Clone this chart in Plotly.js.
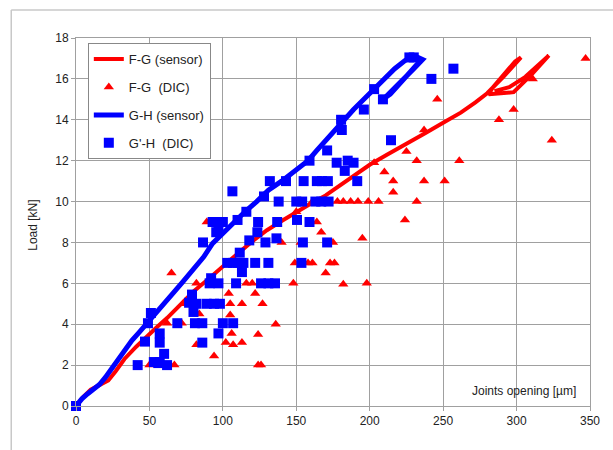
<!DOCTYPE html>
<html>
<head>
<meta charset="utf-8">
<script src="https://cdn.plot.ly/plotly-3.0.1.min.js"></script>
<style>html,body{margin:0;padding:0;background:#fff;}#chart{width:613px;height:450px;}</style>
</head>
<body>
<div id="chart"></div>
<script>
// F-G (sensor)
var fgSensorX = [0,5,10,16,22,27,33,41,48,55,62,70,80,90,100,110,120,130,140,150,160,170,180,190,200,212,225,238,250,262,272,280,291,303,299,290,284,281,290,298,310,322,316,306,295,285];
var fgSensorY = [0,0.45,0.8,1.05,1.25,1.7,2.3,2.9,3.4,3.85,4.3,4.9,5.6,6.2,6.85,7.45,8.05,8.6,9.05,9.5,9.9,10.3,10.8,11.3,11.8,12.3,12.8,13.35,13.85,14.35,14.85,15.3,16.1,17.05,16.85,16.1,15.6,15.25,15.3,15.35,16.2,17.15,16.75,16.1,15.6,15.4];

// F-G (DIC)
var fgDicX = [347,311,298,288,324,246,237,225,232,261,203,210,216,237,251,216,232,206,199,192,187,182,178,224,195,198,182,173,176,170,167,164,161,158,149,148,140,153,175,136,126,124,127,122,120,116,113,113,105,104,105,106,107,102,94,89,82,82,84,72,65,67,50,62,73,124,150,160];
var fgDicY = [17.0,16.0,14.5,14.0,13.0,15.0,13.5,12.45,12.0,12.0,11.9,11.45,11.0,11.0,11.0,10.45,10.0,10.0,10.0,10.0,10.0,10.0,10.0,9.1,8.2,6.0,5.95,7.0,7.0,6.5,8.5,9.0,7.0,7.0,7.0,6.0,8.0,8.0,8.0,4.0,2.0,3.5,5.0,5.5,6.0,6.0,5.0,3.1,5.0,5.5,4.45,3.55,3.0,3.1,2.45,9.0,6.0,3.0,4.5,4.05,6.5,2.0,2.0,4.05,5.0,2.0,9.5,9.9];

// G-H (sensor)
var ghSensorX = [0,4,8,12,16,20,25,30,34,38,43,48,53,60,67,73,80,87,93,100,108,115,123,131,140,149,158,164,170,176,182,189,196,203,210,217,224,228,233,236,230,222,214,210,214,222,230,234];
var ghSensorY = [0,0.35,0.6,0.85,1.05,1.4,1.9,2.45,2.85,3.2,3.6,4.0,4.45,5.0,5.6,6.1,6.7,7.3,7.95,8.45,9.0,9.5,10.0,10.55,11.0,11.5,12.0,12.5,13.0,13.5,14.0,14.5,15.0,15.5,16.0,16.5,16.9,17.05,17.05,16.95,16.5,15.9,15.3,15.05,15.25,15.9,16.5,16.85];

// G'-H (DIC)
var ghDicX = [0,42,47,53,56,57,60,62,57,57,49,51,69,81,86,100,107,97,86,80,77,79,82,89,94,98,91,97,92,109,126,131,135.5,113,103,107,110,114,122,131,153.5,111.5,86.5,118,129,136.5,154.5,171,95.5,97,123.5,93,98,100,110,124,137,150.5,159,116,106.5,128,138,150,154,163,167,172,132,143,155,164,167.5,171.5,191.5,159,171,177.5,185,189,183,180.5,181,196,209,203,214.5,227,230,242,257];
var ghDicY = [0,2.0,3.15,2.15,2.1,2.15,2.55,2.0,3.1,3.55,4.05,4.55,4.05,4.05,4.05,4.05,4.05,3.55,3.1,4.6,5.05,5.45,5.0,5.0,5.0,5.0,6.0,6.0,6.25,6.0,6.0,6.0,6.0,6.55,7.0,7.0,7.0,7.0,7.0,7.0,7.0,7.5,8.0,8.1,8.0,8.2,8.0,8.0,8.5,8.6,8.5,9.0,9.0,9.0,9.1,9.0,9.0,9.1,9.0,9.5,10.5,10.25,10.0,10.0,10.0,10.0,10.0,10.0,11.0,11.0,11.0,11.0,11.0,11.0,11.0,12.0,12.5,11.9,12.0,11.9,11.5,14.0,13.5,14.5,15.0,15.5,13.0,17.05,17.05,16.0,16.5];

var xTicks = [0,50,100,150,200,250,300,350];
var yTicks = [0,2,4,6,8,10,12,14,16,18];

var RED = '#ff0000', BLUE = '#0000ff';

var traces = [
  {x: fgSensorX, y: fgSensorY, name: 'F-G (sensor)', mode: 'lines', legendgroup: 'a',
   line: {color: RED, width: 4}, cliponaxis: false},
  {x: fgDicX, y: fgDicY, name: 'F-G\u00a0 (DIC)', mode: 'markers', legendgroup: 'b',
   marker: {symbol: 'triangle-up', size: 9, color: RED}, cliponaxis: false},
  {x: ghSensorX, y: ghSensorY, name: 'G-H (sensor)', mode: 'lines+markers', legendgroup: 'c',
   line: {color: BLUE, width: 5}, marker: {size: 3, color: BLUE}, cliponaxis: false},
  {x: ghDicX, y: ghDicY, name: "G'-H\u00a0 (DIC)", mode: 'markers', legendgroup: 'd',
   marker: {symbol: 'square', size: 10, color: BLUE}, cliponaxis: false}
];

var axisCommon = {
  showgrid: true, gridcolor: '#a0a0a0', gridwidth: 1,
  showline: true, mirror: true, linecolor: '#a0a0a0', linewidth: 1,
  ticks: 'outside', ticklen: 4, tickcolor: '#a0a0a0',
  zeroline: false,
  tickfont: {family: 'Liberation Sans, Arial, sans-serif', size: 12, color: '#222'}
};

var layout = {
  width: 613, height: 450,
  margin: {l: 76, r: 23, t: 38, b: 44},
  paper_bgcolor: '#fff', plot_bgcolor: '#fff',
  font: {family: 'Liberation Sans, Arial, sans-serif', color: '#222'},
  xaxis: Object.assign({}, axisCommon, {range: [0, 350], tickvals: xTicks, fixedrange: true}),
  yaxis: Object.assign({}, axisCommon, {range: [0, 18], tickvals: yTicks, fixedrange: true}),
  showlegend: true,
  legend: {
    x: 0.023, y: 0.986, xanchor: 'left', yanchor: 'top',
    bgcolor: '#fff', bordercolor: '#888', borderwidth: 1,
    font: {family: 'Liberation Sans, Arial, sans-serif', size: 13, color: '#222'},
    traceorder: 'grouped', tracegroupgap: 8, itemwidth: 30
  },
  annotations: [
    {text: 'Joints opening [µm]', xref: 'x', yref: 'y', x: 342, y: 0.75,
     xanchor: 'right', yanchor: 'middle', showarrow: false,
     font: {size: 12, color: '#222'}},
    {text: 'Load [kN]', xref: 'paper', yref: 'paper', x: -0.084, y: 0.492,
     xanchor: 'center', yanchor: 'middle', textangle: -90, showarrow: false,
     font: {size: 12, color: '#222'}}
  ],
  shapes: [
    {type: 'line', xref: 'paper', yref: 'paper', x0: -0.126, x1: 1.1, y0: 1.076, y1: 1.076,
     line: {color: '#c8c8c8', width: 1.5}},
    {type: 'line', xref: 'paper', yref: 'paper', x0: -0.126, x1: -0.126, y0: 1.076, y1: -0.2,
     line: {color: '#c8c8c8', width: 1.5}}
  ]
};

Plotly.newPlot('chart', traces, layout, {displayModeBar: false, staticPlot: true});
</script>
</body>
</html>
